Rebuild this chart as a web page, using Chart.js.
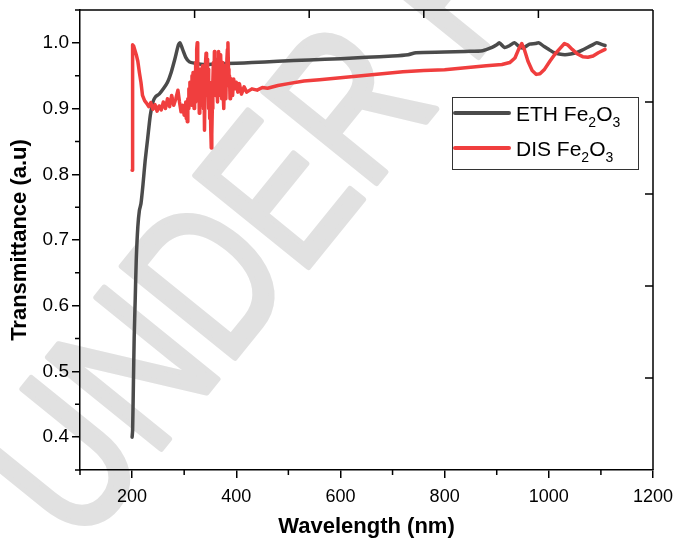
<!DOCTYPE html>
<html>
<head>
<meta charset="utf-8">
<script src="https://cdn.jsdelivr.net/npm/chart.js@4.4.0/dist/chart.umd.min.js"></script>
<style>
  html, body { margin: 0; padding: 0; background: #ffffff; }
  #wrap { width: 676px; height: 544px; }
</style>
</head>
<body>
<div id="wrap"><canvas id="c" width="676" height="544"></canvas></div>
<script>
// ---- data ----
const seriesNames = ['ETH Fe2O3', 'DIS Fe2O3'];

const wavelengthETH = [200, 201, 202.5, 204, 206, 208, 211, 214, 217, 221, 225, 230, 235, 240, 245, 252, 260, 268, 275, 282, 289, 292, 297, 303, 310, 320, 340, 360, 400, 430, 480, 540, 600, 650, 700, 730, 745, 800, 840, 873, 891, 900, 905, 915, 925, 934, 942, 950, 963, 974, 981, 990, 1000, 1010, 1020, 1031, 1042, 1053, 1064, 1074, 1084, 1092, 1100, 1108];
const transETH      = [0.40, 0.41, 0.48, 0.55, 0.61, 0.67, 0.72, 0.745, 0.755, 0.785, 0.82, 0.855, 0.89, 0.91, 0.918, 0.922, 0.93, 0.94, 0.955, 0.975, 0.997, 1.0, 0.99, 0.978, 0.971, 0.969, 0.967, 0.968, 0.969, 0.970, 0.972, 0.974, 0.976, 0.978, 0.980, 0.982, 0.985, 0.986, 0.987, 0.988, 0.993, 0.997, 1.0, 0.993, 0.996, 1.0, 0.995, 0.992, 0.998, 0.999, 1.0, 0.995, 0.99, 0.985, 0.983, 0.982, 0.983, 0.985, 0.989, 0.993, 0.997, 1.0, 0.998, 0.996];

const wavelengthDIS = [200, 201, 203, 205, 208, 211, 214, 217, 220, 224, 228, 232, 236, 240, 244, 248, 252, 256, 260, 264, 268, 272, 276, 280, 284, 288, 291, 294, 297,
  300, 301, 302, 303, 304, 305, 306, 307, 308, 309, 310, 311, 312, 313, 314, 315, 316, 317, 318, 319, 320, 321, 322, 323, 324, 325, 326, 327, 328, 329,
  330, 331, 332, 333, 334, 335, 336, 337, 338, 339, 340, 341, 342, 343, 344, 345, 346, 347, 348, 349, 350, 351, 352, 353, 354, 355, 356, 357, 358, 359,
  360, 361, 362, 363, 364, 365, 366, 367, 368, 369, 370, 371, 372, 373, 374, 375, 376, 377, 378, 379, 380, 381, 382, 383, 384, 385, 386, 387, 388, 389,
  390, 391, 392, 393, 394, 395, 397, 400, 403, 406, 410, 415, 420, 430, 440, 450, 460, 480, 500, 530, 560, 600, 640, 680, 720, 760, 800, 840, 880, 910,
  925, 935, 942, 948, 953, 960, 968, 976, 983, 992, 1002, 1012, 1022, 1030, 1036, 1045, 1055, 1065, 1075, 1085, 1095, 1108];
const transDIS      = [0.806, 0.997, 0.995, 0.99, 0.982, 0.972, 0.955, 0.94, 0.92, 0.912, 0.908, 0.903, 0.909, 0.899, 0.906, 0.896, 0.904, 0.898, 0.91, 0.90, 0.915, 0.903, 0.92, 0.905, 0.915, 0.928, 0.91, 0.895, 0.905,
  0.89, 0.905, 0.895, 0.91, 0.885, 0.90, 0.88, 0.915, 0.90, 0.93, 0.915, 0.94, 0.92, 0.935, 0.905, 0.95, 0.92, 0.955, 0.93, 0.90, 0.945, 0.91, 0.97, 0.94, 0.99, 1.0, 0.96, 0.93, 0.95, 0.893,
  0.93, 0.96, 0.91, 0.955, 0.905, 0.965, 0.92, 0.90, 0.945, 0.867, 0.93, 0.97, 0.984, 0.94, 0.975, 0.92, 0.96, 0.90, 0.94, 0.885, 0.925, 0.87, 0.84, 0.86, 0.90, 0.94, 0.97, 0.925, 0.987, 0.95,
  0.92, 0.96, 0.975, 0.93, 0.91, 0.96, 0.987, 0.94, 0.96, 0.92, 0.982, 0.95, 0.915, 0.95, 0.97, 0.92, 0.90, 0.94, 0.965, 0.93, 0.915, 0.955, 0.975, 0.99, 1.0, 0.96, 0.935, 0.95, 0.915, 0.94,
  0.945, 0.925, 0.94, 0.92, 0.935, 0.945, 0.93, 0.94, 0.925, 0.938, 0.922, 0.933, 0.925, 0.93, 0.928, 0.932, 0.931, 0.935, 0.938, 0.942, 0.944, 0.947, 0.95, 0.953, 0.956, 0.958, 0.959, 0.962, 0.965, 0.967,
  0.97, 0.977, 0.99, 0.999, 0.99, 0.972, 0.958, 0.952, 0.953, 0.96, 0.972, 0.983, 0.992, 0.999, 0.997, 0.99, 0.983, 0.979, 0.978, 0.98, 0.985, 0.99];

const xTickValues = [200, 400, 600, 800, 1000, 1200];
const xMinorValues = [100, 300, 500, 700, 900, 1100];
const yTickValues = [0.4, 0.5, 0.6, 0.7, 0.8, 0.9, 1.0];
const yMinorValues = [0.35, 0.45, 0.55, 0.65, 0.75, 0.85, 0.95, 1.05];
const xRange = [100, 1200];
const yRange = [0.35, 1.05];
const watermarkText = 'UNDER REVIEW';

const FONT = "'Liberation Sans', Arial, Helvetica, sans-serif";
const colETH = '#4b4b4b';
const colDIS = '#f03e3e';

function toPoints(xs, ys) { return xs.map((x, i) => ({ x: x, y: ys[i] })); }

// watermark drawn behind everything
const watermarkPlugin = {
  id: 'watermark',
  beforeDraw(chart) {
    const ctx = chart.ctx;
    ctx.save();
    ctx.translate(430, 24);
    ctx.rotate(-51 * Math.PI / 180);
    ctx.scale(1, 1.3);
    ctx.font = '162px ' + FONT;
    ctx.fillStyle = '#e1e1e1';
    ctx.strokeStyle = '#e1e1e1';
    ctx.lineWidth = 5;
    ctx.lineJoin = 'round';
    ctx.textAlign = 'center';
    ctx.textBaseline = 'middle';
    ctx.fillText(watermarkText, 0, 0);
    ctx.strokeText(watermarkText, 0, 0);
    ctx.restore();
  }
};

// frame (top/right), inner ticks, minor ticks, legend
const framePlugin = {
  id: 'frame',
  afterDraw(chart) {
    const ctx = chart.ctx;
    const a = chart.chartArea;
    const xs = chart.scales.x, ys = chart.scales.y;
    ctx.save();
    ctx.strokeStyle = '#000';
    ctx.lineWidth = 1.5;
    ctx.beginPath();
    ctx.moveTo(a.left, a.top); ctx.lineTo(a.right, a.top);
    ctx.moveTo(a.right, a.top); ctx.lineTo(a.right, a.bottom);
    ctx.stroke();
    ctx.beginPath();
    for (let k = 1; k < 5; k++) {
      const px = a.left + (a.right - a.left) * k / 5;
      ctx.moveTo(px, a.top); ctx.lineTo(px, a.top + 8);
      const py = a.top + (a.bottom - a.top) * k / 5;
      ctx.moveTo(a.right, py); ctx.lineTo(a.right - 8, py);
    }
    ctx.stroke();
    ctx.beginPath();
    xMinorValues.forEach(v => {
      const px = xs.getPixelForValue(v);
      ctx.moveTo(px, a.bottom); ctx.lineTo(px, a.bottom + 5);
    });
    yMinorValues.forEach(v => {
      const py = ys.getPixelForValue(v);
      ctx.moveTo(a.left, py); ctx.lineTo(a.left - 5, py);
    });
    ctx.stroke();

    // legend
    const bx = 452.5, by = 97.5, bw = 186, bh = 72;
    ctx.lineWidth = 1;
    ctx.strokeStyle = '#333';
    ctx.strokeRect(bx, by, bw, bh);
    const cols = [colETH, colDIS];
    seriesNames.forEach((name, i) => {
      const ly = 113 + i * 35;
      ctx.strokeStyle = cols[i];
      ctx.lineWidth = 4;
      ctx.lineCap = 'round';
      ctx.beginPath();
      ctx.moveTo(455, ly); ctx.lineTo(509, ly);
      ctx.stroke();
      let tx = 516;
      const base = ly + 8;
      ctx.fillStyle = '#000';
      ctx.textBaseline = 'alphabetic';
      ctx.textAlign = 'left';
      name.split(/(\d+)/).forEach(p => {
        if (!p) return;
        if (/^\d+$/.test(p)) {
          ctx.font = '14px ' + FONT;
          ctx.fillText(p, tx, base + 6);
        } else {
          ctx.font = '21px ' + FONT;
          ctx.fillText(p, tx, base);
        }
        tx += ctx.measureText(p).width;
      });
    });
    ctx.restore();
  }
};

const chart = new Chart(document.getElementById('c'), {
  type: 'line',
  data: {
    datasets: [
      {
        label: 'ETH Fe₂O₃',
        data: toPoints(wavelengthETH, transETH),
        borderColor: colETH,
        borderWidth: 3.5,
        pointRadius: 0,
        tension: 0.25,
        borderJoinStyle: 'round',
        borderCapStyle: 'round',
        order: 1
      },
      {
        label: 'DIS Fe₂O₃',
        data: toPoints(wavelengthDIS, transDIS),
        borderColor: colDIS,
        borderWidth: 3.5,
        pointRadius: 0,
        tension: 0,
        borderJoinStyle: 'round',
        borderCapStyle: 'round',
        order: 0
      }
    ]
  },
  options: {
    responsive: false,
    animation: false,
    devicePixelRatio: 1,
    layout: { padding: { top: 10, right: 23, left: 0, bottom: 0 } },
    plugins: { legend: { display: false }, tooltip: { enabled: false } },
    scales: {
      x: {
        type: 'linear',
        min: xRange[0], max: xRange[1],
        afterBuildTicks: s => { s.ticks = xTickValues.map(v => ({ value: v })); },
        afterFit: s => { s.height = 74; s.paddingLeft = 0; s.paddingRight = 0; },
        ticks: {
          color: '#000',
          font: { family: FONT, size: 18 },
          padding: 8,
          maxRotation: 0,
          callback: v => String(v)
        },
        grid: { drawOnChartArea: false, drawTicks: true, tickLength: 8, color: '#000', lineWidth: 1.5 },
        border: { display: true, color: '#000', width: 1.5 },
        title: {
          display: true, text: 'Wavelength (nm)', color: '#000',
          font: { family: FONT, size: 22, weight: 'bold' },
          padding: { top: 0, bottom: 4 }
        }
      },
      y: {
        type: 'linear',
        min: yRange[0], max: yRange[1],
        afterBuildTicks: s => { s.ticks = yTickValues.map(v => ({ value: v })); },
        afterFit: s => { s.width = 80; s.paddingTop = 0; s.paddingBottom = 0; },
        ticks: {
          color: '#000',
          font: { family: FONT, size: 19 },
          padding: 3,
          callback: v => Number(v).toFixed(1)
        },
        grid: { drawOnChartArea: false, drawTicks: true, tickLength: 8, color: '#000', lineWidth: 1.5 },
        border: { display: true, color: '#000', width: 1.5 },
        title: {
          display: true, text: 'Transmittance (a.u)', color: '#000',
          font: { family: FONT, size: 22, weight: 'bold' },
          padding: { top: 7, bottom: 0 }
        }
      }
    }
  },
  plugins: [watermarkPlugin, framePlugin]
});
</script>
</body>
</html>
